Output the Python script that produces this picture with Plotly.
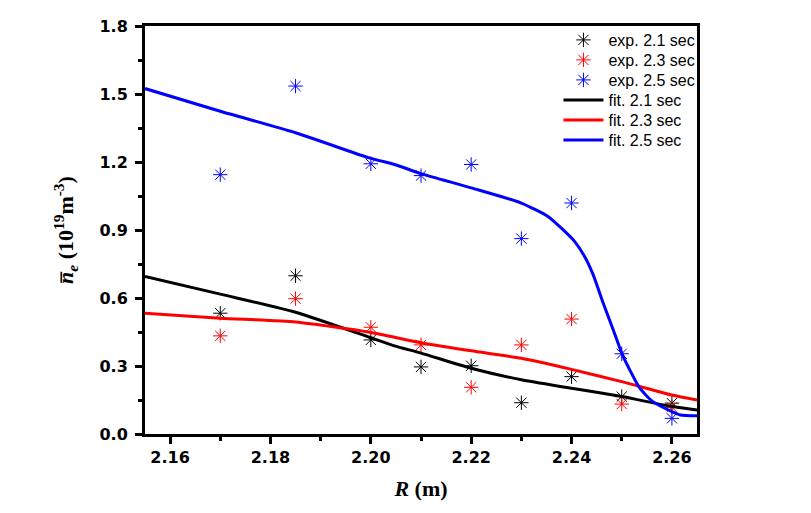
import plotly.graph_objects as go

# experimental data
r_exp = [2.17, 2.185, 2.20, 2.21, 2.22, 2.23, 2.24, 2.25, 2.26]
ne_21 = [0.533, 0.698, 0.415, 0.296, 0.301, 0.138, 0.253, 0.165, 0.136]
ne_23 = [0.433, 0.597, 0.471, 0.393, 0.206, 0.393, 0.507, 0.132, 0.118]
ne_25 = [1.144, 1.535, 1.192, 1.140, 1.189, 0.862, 1.019, 0.354, 0.069]

# fit curves
r_fit21 = [2.155, 2.17, 2.185, 2.1997, 2.2047, 2.21, 2.22, 2.23, 2.24, 2.25, 2.26, 2.265]
fit_21 = [0.695, 0.617, 0.537, 0.427, 0.389, 0.357, 0.290, 0.239, 0.202, 0.165, 0.121, 0.106]
r_fit23 = [2.155, 2.17, 2.185, 2.1997, 2.21, 2.22, 2.23, 2.24, 2.25, 2.26, 2.265]
fit_23 = [0.533, 0.511, 0.494, 0.449, 0.403, 0.367, 0.334, 0.285, 0.231, 0.172, 0.150]
r_fit25 = [2.155, 2.17, 2.185, 2.1997, 2.2047, 2.21, 2.22, 2.23, 2.2353, 2.2376, 2.2406,
           2.2426, 2.2443, 2.2463, 2.2483, 2.25, 2.2516, 2.2536, 2.2562, 2.26, 2.2617, 2.265]
fit_25 = [1.524, 1.424, 1.329, 1.218, 1.189, 1.149, 1.086, 1.019, 0.960, 0.916, 0.850,
          0.783, 0.703, 0.578, 0.460, 0.357, 0.283, 0.202, 0.143, 0.099, 0.084, 0.080]

x_ticks = [2.16, 2.18, 2.20, 2.22, 2.24, 2.26]
y_ticks = [0.0, 0.3, 0.6, 0.9, 1.2, 1.5, 1.8]

exp_series = [(ne_21, "black", "exp. 2.1 sec"), (ne_23, "red", "exp. 2.3 sec"), (ne_25, "blue", "exp. 2.5 sec")]
fit_series = [(r_fit21, fit_21, "black", "fit. 2.1 sec"), (r_fit23, fit_23, "red", "fit. 2.3 sec"),
              (r_fit25, fit_25, "blue", "fit. 2.5 sec")]

fig = go.Figure()
legend_names = ["legend", "legend2", "legend3", "legend4", "legend5", "legend6"]
i = 0
for y, c, n in exp_series:
    fig.add_trace(go.Scatter(x=r_exp, y=y, mode="markers", name=n, legend=legend_names[i],
                             marker=dict(color=c, symbol="asterisk-open", size=12, line=dict(width=1, color=c))))
    i += 1
for x, y, c, n in fit_series:
    fig.add_trace(go.Scatter(x=x, y=y, mode="lines", name=n, legend=legend_names[i],
                             line=dict(color=c, width=3, shape="spline", smoothing=0.6)))
    i += 1

# plot area in pixels: top 26, bottom 434
plot_top, plot_bot = 26, 434
leg_font = dict(family="Liberation Sans, Arial", size=16, color="black")
legends = {}
for k, name in enumerate(legend_names):
    ypx = 40 + 20 * k
    legends[name] = dict(x=0.749, y=(plot_bot - ypx) / (plot_bot - plot_top), xanchor="left", yanchor="middle",
                         bgcolor="rgba(0,0,0,0)", font=leg_font, itemwidth=40, borderwidth=0)

axfont = dict(family="DejaVu Sans", size=16, color="black", weight="bold")
title_font = dict(family="Liberation Serif, Times New Roman", size=22, color="black")
fig.update_layout(
    width=811, height=513,
    margin=dict(l=145, r=114, t=plot_top, b=513 - plot_bot),
    paper_bgcolor="white", plot_bgcolor="white",
    showlegend=True,
    **legends,
    xaxis=dict(range=[2.155, 2.265], tickvals=x_ticks, ticktext=[f"{v:.2f}" for v in x_ticks],
               ticks="outside", ticklen=7, tickwidth=3, tickcolor="black", automargin=False,
               showline=True, linewidth=3, linecolor="black", mirror=True, showgrid=False, zeroline=False,
               tickfont=axfont,
               minor=dict(dtick=0.01, tick0=2.15, ticks="outside", ticklen=4, tickwidth=3, tickcolor="black", showgrid=False),
               title=dict(text="<b><i>R</i> (m)</b>", font=title_font, standoff=15)),
    yaxis=dict(range=[0, 1.8], tickvals=y_ticks, ticktext=[f"{v:.1f}" for v in y_ticks],
               ticks="outside", ticklen=7, tickwidth=3, tickcolor="black", automargin=False,
               showline=True, linewidth=3, linecolor="black", mirror=True, showgrid=False, zeroline=False,
               tickfont=axfont, ticklabelstandoff=4,
               minor=dict(dtick=0.15, tick0=0, ticks="outside", ticklen=4, tickwidth=3, tickcolor="black", showgrid=False),
               title=dict(text="<b><i>n\u0305</i><sub><i>e</i></sub> (10<sup>19</sup>m<sup>-3</sup>)</b>",
                          font=title_font, standoff=20)),
)
fig.write_html("out.html", config={"displayModeBar": False},
               post_script="document.body.style.margin='0';")
